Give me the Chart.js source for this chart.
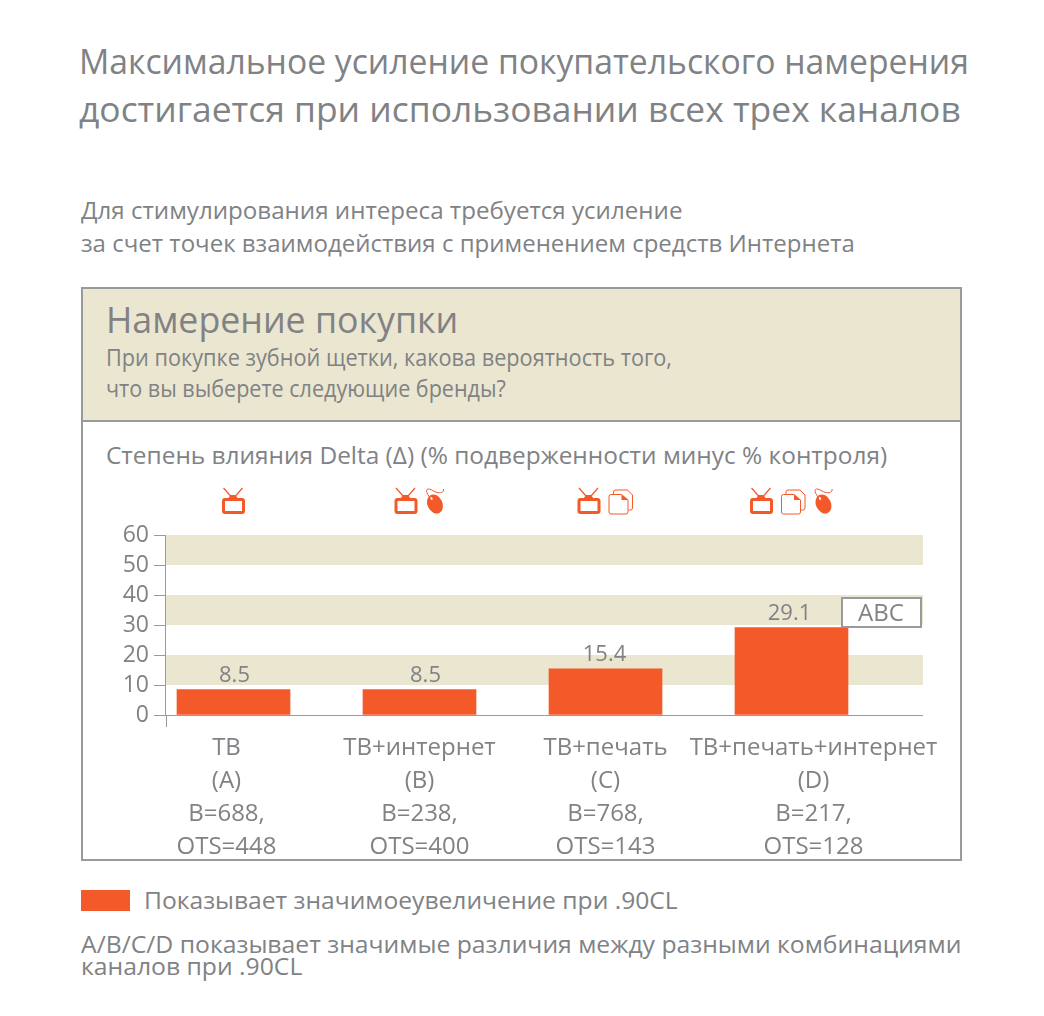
<!DOCTYPE html>
<html lang="ru">
<head>
<meta charset="utf-8">
<title>Намерение покупки</title>
<script src="https://cdn.jsdelivr.net/npm/chart.js@4"></script>
<style>
  html, body { margin: 0; background: #fff; }
  #page { position: relative; width: 1044px; height: 1016px; overflow: hidden; font-family: "Open Sans", sans-serif; color: #808285; }
  #page div.t { position: absolute; white-space: nowrap; transform-origin: 0 50%; }
  #panel { position: absolute; left: 81px; top: 287px; width: 877px; height: 570px; border: 2px solid #999a9c; }
  #panel-head { position: absolute; left: 0; top: 0; width: 100%; height: 131px; background: #ebe6cf; border-bottom: 2px solid #999a9c; }
  #swatch { position: absolute; left: 81px; top: 890px; width: 49px; height: 21px; background: #f4592a; }
  canvas { position: absolute; left: 0; top: 0; }
</style>
</head>
<body>
<div id="page">
  <div id="panel"><div id="panel-head"></div></div>
  <div id="swatch"></div>
  <div class="t" style="left:79px;top:38px;font-size:34px;line-height:46px;transform:scaleX(.991)">Максимальное усиление покупательского намерения</div>
  <div class="t" style="left:79px;top:86px;font-size:34px;line-height:46px;transform:scaleX(1.041)">достигается при использовании всех трех каналов</div>
  <div class="t" style="left:81px;top:193px;font-size:24px;line-height:34px;transform:scaleX(1.005)">Для стимулирования интереса требуется усиление</div>
  <div class="t" style="left:81px;top:226px;font-size:24px;line-height:34px;transform:scaleX(1.001)">за счет точек взаимодействия с применением средств Интернета</div>
  <div class="t" style="left:106px;top:296px;font-size:36px;line-height:48px;transform:scaleX(.992)">Намерение покупки</div>
  <div class="t" style="left:106px;top:341px;font-size:23px;line-height:32px;transform:scaleX(.943)">При покупке зубной щетки, какова вероятность того,</div>
  <div class="t" style="left:106px;top:372px;font-size:23px;line-height:32px;transform:scaleX(.937)">что вы выберете следующие бренды?</div>
  <div class="t" style="left:106px;top:438px;font-size:24px;line-height:34px;transform:scaleX(1.017)">Степень влияния Delta (Δ) (% подверженности минус % контроля)</div>
  <div class="t" style="left:144px;top:883px;font-size:24px;line-height:34px;transform:scaleX(1.026)">Показывает значимоеувеличение при .90CL</div>
  <div class="t" style="left:81px;top:927px;font-size:24px;line-height:34px;transform:scaleX(1.03)">A/B/C/D показывает значимые различия между разными комбинациями</div>
  <div class="t" style="left:81px;top:949px;font-size:24px;line-height:34px;transform:scaleX(1.03)">каналов при .90CL</div>
  <canvas id="chart" width="1044" height="1016"></canvas>
</div>
<script>
const categories = [
    ['ТВ', '(A)', 'B=688,', 'OTS=448'],
    ['ТВ+интернет', '(B)', 'B=238,', 'OTS=400'],
    ['ТВ+печать', '(C)', 'B=768,', 'OTS=143'],
    ['ТВ+печать+интернет', '(D)', 'B=217,', 'OTS=128'],
];
const values = [8.5, 8.5, 15.4, 29.1];
const valueLabels = ['8.5', '8.5', '15.4', '29.1'];
const yTicks = [0, 10, 20, 30, 40, 50, 60];
const bands = [[10, 20], [30, 40], [50, 60]];
const channelIcons = [['tv'], ['tv', 'mouse'], ['tv', 'print'], ['tv', 'print', 'mouse']];
const sigLetters = 'ABC';

const ORANGE = '#f4592a';
const SAND = '#ebe6cf';
const GREY = '#808285';
const LINE = '#999a9c';
const FONT = '"Open Sans", sans-serif';

const labelShift = [-7, 0, 0, 22];
const valueShift = [1, 6, -1, -2];
const iconWidth = { tv: 23, mouse: 19, print: 25 };

function drawTv(ctx, x, y) {
    ctx.strokeStyle = ORANGE;
    ctx.fillStyle = ORANGE;
    ctx.lineWidth = 3;
    ctx.beginPath();
    ctx.roundRect(x + 1.5, y + 11.5, 20, 13, 1.5);
    ctx.stroke();
    ctx.lineWidth = 1.2;
    ctx.beginPath();
    ctx.moveTo(x + 1.5, y);
    ctx.lineTo(x + 8.5, y + 8);
    ctx.moveTo(x + 20.5, y);
    ctx.lineTo(x + 13.5, y + 8);
    ctx.stroke();
    ctx.beginPath();
    ctx.moveTo(x + 6, y + 10.5);
    ctx.lineTo(x + 8.5, y + 7);
    ctx.lineTo(x + 13.5, y + 7);
    ctx.lineTo(x + 16, y + 10.5);
    ctx.fill();
}

function drawMouse(ctx, x, y) {
    ctx.strokeStyle = ORANGE;
    ctx.fillStyle = ORANGE;
    ctx.lineWidth = 1;
    ctx.beginPath();
    ctx.moveTo(x + 4, y + 9);
    ctx.bezierCurveTo(x - 2, y + 1, x + 2, y - 1, x + 8, y + 3);
    ctx.bezierCurveTo(x + 13, y + 6, x + 19, y + 5, x + 18, y + 1);
    ctx.stroke();
    ctx.beginPath();
    ctx.ellipse(x + 9.5, y + 16, 7.5, 10, -0.45, 0, Math.PI * 2);
    ctx.fill();
    ctx.fillStyle = '#fff';
    ctx.beginPath();
    ctx.ellipse(x + 6, y + 10.5, 1, 1.6, -0.45, 0, Math.PI * 2);
    ctx.fill();
}

function drawPrint(ctx, x, y) {
    ctx.strokeStyle = ORANGE;
    ctx.fillStyle = ORANGE;
    ctx.lineWidth = 1;
    ctx.beginPath();
    ctx.moveTo(x + 5, y + 6);
    ctx.lineTo(x + 5, y + 4);
    ctx.quadraticCurveTo(x + 5, y + 2, x + 7, y + 2);
    ctx.lineTo(x + 19, y + 2);
    ctx.lineTo(x + 24, y + 7);
    ctx.lineTo(x + 24, y + 20);
    ctx.quadraticCurveTo(x + 24, y + 22, x + 22, y + 22);
    ctx.lineTo(x + 20, y + 22);
    ctx.stroke();
    ctx.fillStyle = '#fff';
    ctx.beginPath();
    ctx.moveTo(x + 2.5, y + 6.5);
    ctx.lineTo(x + 13, y + 6.5);
    ctx.lineTo(x + 19.5, y + 12);
    ctx.lineTo(x + 19.5, y + 24);
    ctx.quadraticCurveTo(x + 19.5, y + 26, x + 17.5, y + 26);
    ctx.lineTo(x + 2.5, y + 26);
    ctx.quadraticCurveTo(x + 0.5, y + 26, x + 0.5, y + 24);
    ctx.lineTo(x + 0.5, y + 8.5);
    ctx.quadraticCurveTo(x + 0.5, y + 6.5, x + 2.5, y + 6.5);
    ctx.fill();
    ctx.stroke();
    ctx.fillStyle = ORANGE;
    ctx.beginPath();
    ctx.moveTo(x + 13, y + 6.5);
    ctx.lineTo(x + 19.5, y + 12);
    ctx.lineTo(x + 13, y + 12);
    ctx.fill();
}

const drawIcon = { tv: drawTv, mouse: drawMouse, print: drawPrint };

const decorations = {
    id: 'decorations',
    beforeDatasetsDraw(chart) {
        const { ctx, scales: { x, y } } = chart;
        const left = x.getPixelForValue(-0.363);
        ctx.save();
        ctx.fillStyle = SAND;
        for (const [from, to] of bands) {
            ctx.fillRect(left, y.getPixelForValue(to), 923 - left, y.getPixelForValue(from) - y.getPixelForValue(to));
        }
        ctx.restore();
    },
    beforeDraw(chart) {
        const { x, y } = chart.scales;
        x.getLabelItems(chart.chartArea).forEach((item, i) => {
            item.options.translation[0] = x.getPixelForTick(i) + labelShift[i];
        });
        // chart.js ignores ticks.padding on an axis placed with position: {x: ...}
        y.getLabelItems(chart.chartArea).forEach(item => {
            item.options.translation[0] = x.getPixelForValue(-0.363) - 17;
        });
    },
    afterDatasetsDraw(chart) {
        const { ctx, scales: { x, y } } = chart;
        const left = x.getPixelForValue(-0.363);
        const base = y.getPixelForValue(0);
        ctx.save();
        ctx.strokeStyle = LINE;
        ctx.lineWidth = 1;
        ctx.beginPath();
        ctx.moveTo(left, base + 0.5);
        ctx.lineTo(923, base + 0.5);
        ctx.moveTo(Math.round(left) + 0.5, base);
        ctx.lineTo(Math.round(left) + 0.5, base + 12);
        ctx.stroke();

        ctx.fillStyle = GREY;
        ctx.font = '22px ' + FONT;
        ctx.textAlign = 'center';
        ctx.textBaseline = 'alphabetic';
        valueLabels.forEach((label, i) => {
            ctx.fillText(label, x.getPixelForValue(i) + valueShift[i], y.getPixelForValue(values[i]) - 8);
        });

        // significance box next to the last bar
        ctx.fillStyle = '#fff';
        ctx.strokeStyle = LINE;
        ctx.lineWidth = 2;
        ctx.fillRect(842, 598, 79, 29);
        ctx.strokeRect(842, 598, 79, 29);
        ctx.fillStyle = GREY;
        ctx.font = '24px ' + FONT;
        ctx.fillText(sigLetters, 881, 621);

        channelIcons.forEach((names, i) => {
            const total = names.reduce((sum, n) => sum + iconWidth[n], 0) + (names.length - 1) * 8;
            let pos = x.getPixelForValue(i) - total / 2;
            for (const name of names) {
                drawIcon[name](ctx, pos, 488);
                pos += iconWidth[name] + 8;
            }
        });
        ctx.restore();
    },
};

new Chart(document.getElementById('chart').getContext('2d'), {
    type: 'bar',
    data: {
        labels: categories,
        datasets: [{
            data: values,
            backgroundColor: ORANGE,
            barThickness: 113,
        }],
    },
    plugins: [decorations],
    options: {
        responsive: false,
        animation: false,
        devicePixelRatio: 1,
        layout: { padding: { left: 140.5, right: 159.5, top: 535, bottom: 0 } },
        plugins: { legend: { display: false }, tooltip: { enabled: false } },
        scales: {
            x: {
                grid: { display: false },
                border: { display: false },
                afterFit(scale) { scale.height = 301; },
                ticks: {
                    autoSkip: false,
                    maxRotation: 0,
                    padding: 9,
                    color: GREY,
                    font: { family: FONT, size: 24, lineHeight: 1.375 },
                },
            },
            y: {
                position: { x: -0.363 },
                min: 0,
                max: 60,
                afterBuildTicks(scale) { scale.ticks = yTicks.map(value => ({ value })); },
                grid: { drawOnChartArea: false, tickLength: 11, color: LINE },
                border: { color: LINE },
                ticks: {
                    autoSkip: false,
                    color: GREY,
                    font: { family: FONT, size: 23 },
                },
            },
        },
    },
});
</script>
</body>
</html>
